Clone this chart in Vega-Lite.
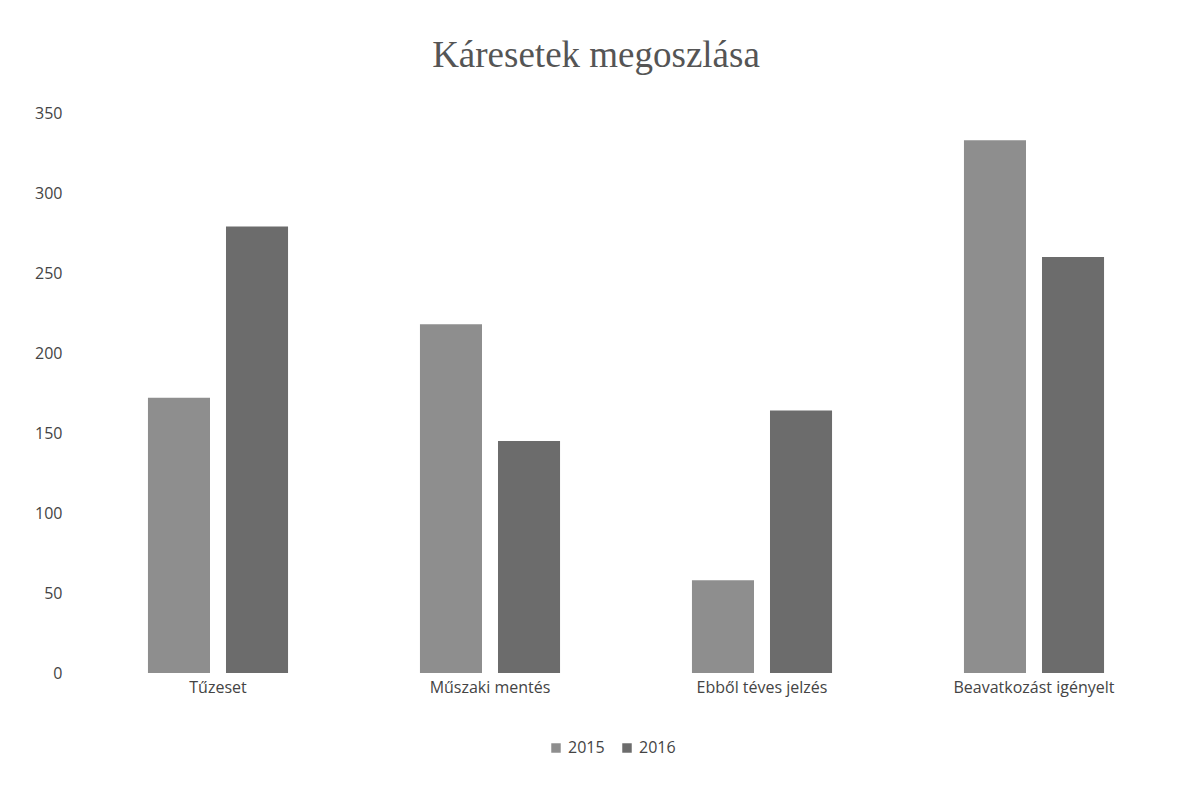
{
  "$schema": "https://vega.github.io/schema/vega-lite/v6.json",
  "autosize": "none",
  "width": 1088,
  "height": 560,
  "padding": {"left": 82, "top": 113, "right": 23, "bottom": 113},
  "background": "#ffffff",
  "title": {
    "text": "Káresetek megoszlása",
    "font": "Liberation Serif",
    "fontSize": 37,
    "fontWeight": "normal",
    "color": "#555555",
    "anchor": "middle",
    "frame": "group",
    "dx": -30,
    "offset": 30
  },
  "config": {
    "view": {"stroke": null},
    "font": "Open Sans"
  },
  "data": {
    "values": [
      {"kategoria": "Tűzeset", "ev": "2015", "ertek": 172},
      {"kategoria": "Tűzeset", "ev": "2016", "ertek": 279},
      {"kategoria": "Műszaki mentés", "ev": "2015", "ertek": 218},
      {"kategoria": "Műszaki mentés", "ev": "2016", "ertek": 145},
      {"kategoria": "Ebből téves jelzés", "ev": "2015", "ertek": 58},
      {"kategoria": "Ebből téves jelzés", "ev": "2016", "ertek": 164},
      {"kategoria": "Beavatkozást igényelt", "ev": "2015", "ertek": 333},
      {"kategoria": "Beavatkozást igényelt", "ev": "2016", "ertek": 260}
    ]
  },
  "mark": {"type": "bar"},
  "encoding": {
    "x": {
      "field": "kategoria",
      "type": "nominal",
      "sort": ["Tűzeset", "Műszaki mentés", "Ebből téves jelzés", "Beavatkozást igényelt"],
      "scale": {"paddingInner": 0.485, "paddingOuter": 0.2425},
      "axis": {
        "title": null,
        "labelAngle": 0,
        "labelFontSize": 16,
        "labelColor": "#444444",
        "labelPadding": 6,
        "domain": false,
        "ticks": false
      }
    },
    "xOffset": {
      "field": "ev",
      "type": "nominal",
      "scale": {"paddingInner": 0.205}
    },
    "y": {
      "field": "ertek",
      "type": "quantitative",
      "scale": {"domain": [0, 350], "nice": false},
      "axis": {
        "title": null,
        "values": [0, 50, 100, 150, 200, 250, 300, 350],
        "labelFontSize": 16,
        "labelColor": "#444444",
        "labelPadding": 20,
        "domain": false,
        "ticks": false,
        "grid": false
      }
    },
    "color": {
      "field": "ev",
      "type": "nominal",
      "scale": {"domain": ["2015", "2016"], "range": ["#8e8e8e", "#6c6c6c"]},
      "legend": {
        "title": null,
        "orient": "none",
        "legendX": 466,
        "legendY": 627,
        "direction": "horizontal",
        "symbolType": "square",
        "symbolSize": 90,
        "labelFontSize": 16,
        "labelColor": "#444444",
        "columnPadding": 14
      }
    }
  }
}
